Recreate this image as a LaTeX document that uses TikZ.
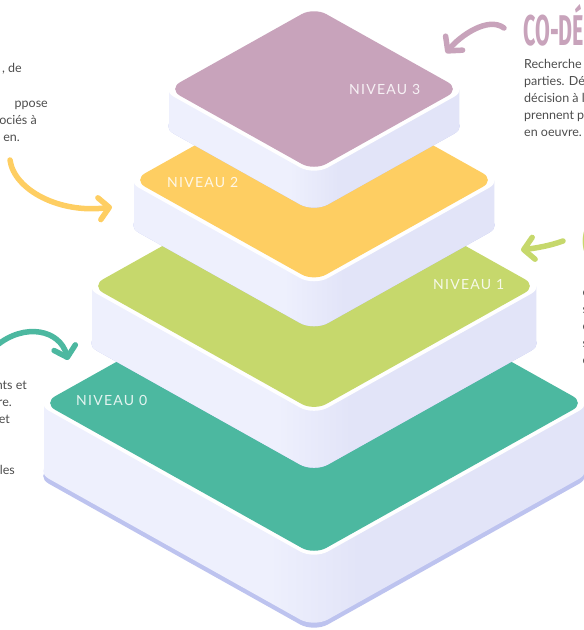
\documentclass[tikz,border=0pt]{standalone}
\usepackage{fontspec}
\setmainfont{Lato}
\newfontfamily\niveaufont[LetterSpace=9]{Lato}
\newfontfamily\titrefont[FakeStretch=0.5]{Fira Sans}
\usetikzlibrary{arrows.meta}

\definecolor{teal0}{HTML}{4CB8A0}
\definecolor{lime1}{HTML}{C6D86C}
\definecolor{jaune2}{HTML}{FECE62}
\definecolor{mauve3}{HTML}{C8A3BB}
\definecolor{flancG}{HTML}{EEF0FD}
\definecolor{flancD}{HTML}{E2E4F8}
\definecolor{ombre}{HTML}{BDC3EF}
\definecolor{texte}{HTML}{4D4D4D}

\pgfdeclarehorizontalshading{flanc}{100bp}{color(0bp)=(flancG); color(46bp)=(flancG); color(54bp)=(flancD); color(100bp)=(flancD)}

\tikzset{
  niveau/.style={font=\niveaufont\fontsize{14}{14}\selectfont, text=white, text opacity=0.85, inner sep=0pt, anchor=base west},
  corps/.style={font=\fontsize{12.5}{17}\selectfont, text=texte, inner sep=0pt},
  titre/.style={font=\titrefont\bfseries\fontsize{43}{43}\selectfont, inner sep=0pt, anchor=base west},
  fleche/.style={line width=5.5pt, line cap=round, -{Straight Barb[round, length=10pt, width=22pt]}},
}

% plateau: centre x, centre y, half width, thickness, colour, shadow offset
\newcommand\plateau[6]{%
  \pgfmathsetmacro\ph{0.56*#3}%
  \pgfmathsetmacro\pw{#3-8}%
  \pgfmathsetmacro\pk{0.56*\pw}%
  \pgfmathsetmacro\pl{#1-#3+9}%
  \pgfmathsetmacro\pr{#1+#3-9}%
  \pgfmathsetmacro\ps{#4+#6}%
  \fill[ombre] [rounded corners=16pt] (#1-#3,#2+\ps) -- (#1,#2+\ph+\ps) -- (#1+#3,#2+\ps) -- (#1,#2-\ph+\ps) -- cycle
    [sharp corners] (\pl,#2) -- (\pl,#2+\ps) -- (\pr,#2+\ps) -- (\pr,#2) -- cycle;
  \shade[shading=flanc] [rounded corners=16pt] (#1-#3,#2+#4) -- (#1,#2+\ph+#4) -- (#1+#3,#2+#4) -- (#1,#2-\ph+#4) -- cycle
    [sharp corners] (\pl,#2) -- (\pl,#2+#4) -- (\pr,#2+#4) -- (\pr,#2) -- cycle;
  \fill[white, rounded corners=16pt] (#1-#3,#2) -- (#1,#2+\ph) -- (#1+#3,#2) -- (#1,#2-\ph) -- cycle;
  \fill[#5, rounded corners=14pt] (#1-\pw,#2) -- (#1,#2+\pk) -- (#1+\pw,#2) -- (#1,#2-\pk) -- cycle;
}

\begin{document}
\begin{tikzpicture}[x=1pt, y=-1pt]
\useasboundingbox (0,0) rectangle (584,630);
\clip (0,0) rectangle (584,630);

% the four levels, bottom first
\plateau{314}{403}{279}{68}{teal0}{5}
\plateau{314}{286}{231}{57}{lime1}{0}
\plateau{314}{180}{189}{45}{jaune2}{0}
\plateau{314}{89}{154}{37}{mauve3}{0}

\node[niveau] (niv0) at (76,405) {NIVEAU 0};
\node[niveau] (niv1) at (433,289) {NIVEAU 1};
\node[niveau] (niv2) at (167,187) {NIVEAU 2};
\node[niveau] (niv3) at (349,94) {NIVEAU 3};

% texts cut by the frame
\node[corps, anchor=base east] (gA) at (22,72) {, de};
\node[corps, anchor=base east] (gB) at (48,107) {ppose};
\node[corps, anchor=base east] (gC) at (37,124) {ociés à};
\node[corps, anchor=base east] (gD) at (20,141) {en.};

\node[corps, anchor=base east] (bA) at (27,389) {nts et};
\node[corps, anchor=base east] (bB) at (12,406) {re.};
\node[corps, anchor=base east] (bC) at (10,423) {et};
\node[corps, anchor=base east] (bD) at (15,474) {les};

\node[titre, text=mauve3] (coDe) at (523,45) {CO-DÉ};
\node[corps, anchor=base west] (dA) at (524,68) {Recherche};
\node[corps, anchor=base west] (dB) at (524,85) {parties. Dé};
\node[corps, anchor=base west] (dC) at (524,102) {décision à l};
\node[corps, anchor=base west] (dD) at (524,119) {prennent p};
\node[corps, anchor=base west] (dE) at (524,136) {en oeuvre.};

\node[titre, text=lime1] (titreB) at (582,256) {C};
\node[corps, anchor=base west] (eA) at (582.5,296) {e};
\node[corps, anchor=base west] (eB) at (582.5,313) {s};
\node[corps, anchor=base west] (eC) at (582.5,330) {e};
\node[corps, anchor=base west] (eD) at (582.5,347) {s};
\node[corps, anchor=base west] (eE) at (582.5,364) {e};

% arrows
\coordinate (mauveA) at (504,28);
\coordinate (mauveB) at (446,53);
\coordinate (jauneA) at (10,160);
\coordinate (jauneB) at (112,207);
\coordinate (limeA) at (563,241);
\coordinate (limeB) at (521,250);
\coordinate (tealA) at (-4,346);
\coordinate (tealB) at (68,360);

\draw[fleche, mauve3] (mauveA) .. controls (488,16) and (460,36) .. (mauveB);
\draw[fleche, jaune2] (jauneA) .. controls (14,190) and (60,214) .. (jauneB);
\draw[fleche, lime1] (limeA) .. controls (549,246) and (536,248) .. (limeB);
\draw[fleche, teal0] (tealA) .. controls (25,322) and (60,330) .. (tealB);
\end{tikzpicture}
\end{document}
